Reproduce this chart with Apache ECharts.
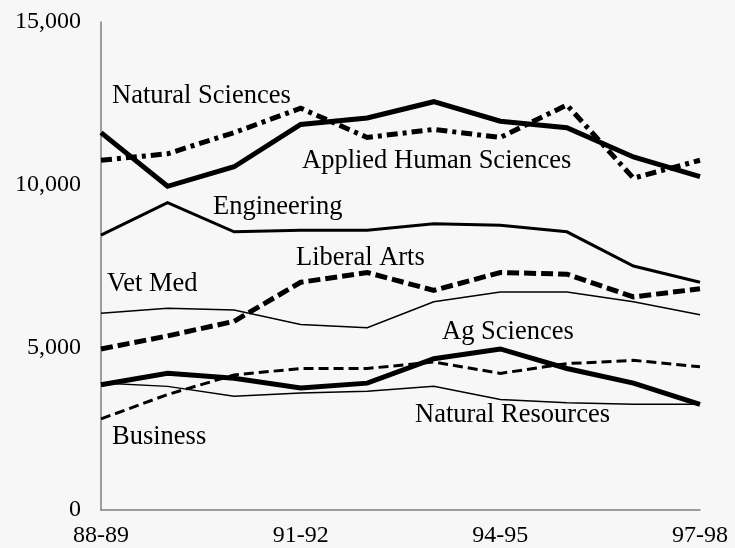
<!DOCTYPE html>
<html>
<head>
<meta charset="utf-8">
<script src="https://cdn.jsdelivr.net/npm/echarts@6/dist/echarts.min.js"></script>
<style>
html,body{margin:0;padding:0;background:#f7f7f7;}
#chart{width:735px;height:548px;}
</style>
</head>
<body>
<div id="chart"></div>
<script>
// Categories (school years)
var years = ['88-89','89-90','90-91','91-92','92-93','93-94','94-95','95-96','96-97','97-98'];

// Series values (enrollment)
var appliedHuman   = [11600, 9950, 10550, 11850, 12050, 12550, 11950, 11750, 10850, 10250];
var naturalSci     = [10750, 10950, 11600, 12350, 11450, 11700, 11450, 12450, 10200, 10750];
var engineering    = [8450, 9450, 8550, 8600, 8600, 8800, 8750, 8550, 7500, 7000];
var liberalArts    = [4950, 5350, 5800, 7000, 7300, 6750, 7300, 7250, 6550, 6800];
var vetMed         = [6050, 6200, 6150, 5700, 5600, 6400, 6700, 6700, 6400, 6000];
var agSciences     = [3850, 4200, 4050, 3750, 3900, 4650, 4950, 4350, 3900, 3250];
var business       = [2800, 3550, 4150, 4350, 4350, 4550, 4200, 4500, 4600, 4400];
var naturalRes     = [3900, 3800, 3500, 3600, 3650, 3800, 3400, 3300, 3250, 3250];

// Y tick values
var yMin = 0, yMax = 15000, yStep = 5000;

var FONT = '"Liberation Serif", "Times New Roman", serif';

function line(name, data, width, type) {
  return {
    name: name, type: 'line', data: data, symbol: 'none',
    lineStyle: { color: '#000', width: width, type: type, cap: 'butt', join: 'miter' },
    emphasis: { disabled: true }, silent: true, animation: false
  };
}

function lbl(text, x, y) {
  return { type: 'text', x: x, y: y, silent: true,
    style: { text: text, fill: '#000', font: '26.5px ' + FONT, verticalAlign: 'middle', align: 'left' } };
}

var chart = echarts.init(document.getElementById('chart'));
chart.setOption({
  backgroundColor: '#f7f7f7',
  animation: false,
  grid: { left: 101, right: 35, top: 22, bottom: 34, containLabel: false },
  xAxis: {
    type: 'category', data: years, boundaryGap: false,
    axisLine: { show: true, lineStyle: { color: '#808080', width: 1.5 } },
    axisTick: { show: false },
    axisLabel: { interval: 2, color: '#000', fontFamily: FONT, fontSize: 24, margin: 14,
                 showMinLabel: true, showMaxLabel: true },
    splitLine: { show: false }
  },
  yAxis: {
    type: 'value', min: yMin, max: yMax, interval: yStep,
    axisLine: { show: true, lineStyle: { color: '#808080', width: 1.5 } },
    axisTick: { show: false },
    axisLabel: { color: '#000', fontFamily: FONT, fontSize: 24, margin: 20,
                 formatter: function (v) { return v.toLocaleString('en-US'); } },
    splitLine: { show: false }
  },
  series: [
    line('Applied Human Sciences', appliedHuman, 5, 'solid'),
    line('Natural Sciences', naturalSci, 5, [11, 5, 4, 5]),
    line('Engineering', engineering, 3, 'solid'),
    line('Liberal Arts', liberalArts, 5, [12, 5]),
    line('Vet Med', vetMed, 1.5, 'solid'),
    line('Ag Sciences', agSciences, 5, 'solid'),
    line('Business', business, 3, [10, 5]),
    line('Natural Resources', naturalRes, 1.5, 'solid')
  ],
  graphic: [
    lbl('Natural Sciences', 112, 96),
    lbl('Applied Human Sciences', 302, 161),
    lbl('Engineering', 213, 207),
    lbl('Liberal Arts', 296, 258),
    lbl('Vet Med', 107, 284),
    lbl('Ag Sciences', 442, 332),
    lbl('Natural Resources', 415, 415),
    lbl('Business', 112, 437)
  ]
});
</script>
</body>
</html>
